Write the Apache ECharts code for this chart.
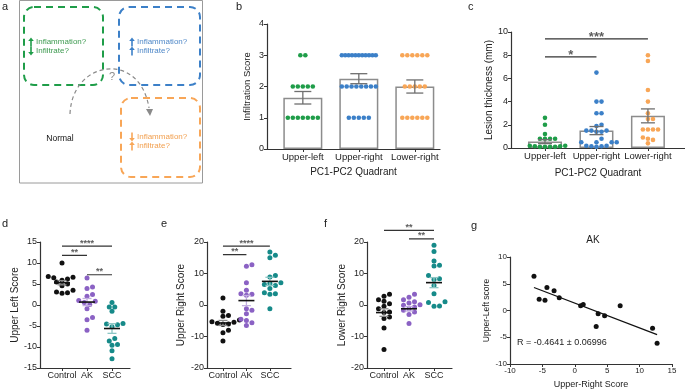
<!DOCTYPE html>
<html>
<head>
<meta charset="utf-8">
<script src="https://cdn.jsdelivr.net/npm/echarts@6/dist/echarts.min.js"></script>
<style>
  html, body { margin: 0; padding: 0; background: #fff; }
  #chart { width: 685px; height: 391px; }
</style>
</head>
<body>
<div id="chart"></div>
<script>
// ---------- data ----------
const quadrants = ["Upper-left", "Upper-right", "Lower-right"];
const groups = ["Control", "AK", "SCC"];

// b: infiltration score
const bUpperLeft = [3, 3, 2, 2, 2, 2, 2, 1, 1, 1, 1, 1, 1, 1];
const bUpperRight = [3, 3, 3, 3, 3, 3, 3, 3, 3, 3, 3, 2, 2, 2, 2, 2, 2, 2, 2, 1, 1, 1, 1, 1];
const bLowerRight = [3, 3, 3, 3, 3, 3, 2, 2, 2, 2, 2, 1, 1, 1, 1, 1, 1];
const bMean = [1.64, 2.25, 2.0];
const bSem = [0.2, 0.16, 0.21];

// c: lesion thickness (mm)
const cUpperLeft = [2.6, 2.0, 1.2, 0.8, 0.8, 0.8, 0.8, 0.2, 0.2, 0.15, 0.15, 0.1, 0.1, 0.1, 0.1];
const cUpperRight = [6.5, 4.0, 4.0, 3.0, 3.0, 2.0, 1.9, 1.5, 1.5, 1.4, 1.4, 1.5, 0.8, 0.5, 0.5, 0.5, 0.5, 0.2, 0.2, 0.15, 0.15, 0.1];
const cLowerRight = [8.0, 7.5, 5.0, 4.0, 3.0, 2.5, 2.5, 1.6, 1.6, 1.6, 1.6, 0.9, 0.8, 0.7, 0.4];
const cMean = [0.55, 1.5, 2.77];
const cSem = [0.17, 0.35, 0.6];
const cSigFrom = [1, 1];
const cSigTo = [2, 3];
const cSigY = [7.85, 9.4];
const cSigText = ["*", "***"];

// d: upper left score
const dControl = [10, 6.8, 6.5, 6.6, 6.2, 5.9, 5.5, 5.0, 4.6, 3.5, 3.1, 2.9, 2.8];
const dAK = [6.4, 4.3, 3.9, 2.5, 2.1, 1.1, 0.9, 0.6, 0.1, -0.9, -3.0, -3.5, -6.0];
const dSCC = [0.6, -0.5, -0.5, -1.5, -4.4, -4.5, -4.7, -5.2, -8.0, -8.6, -9.4, -9.6, -10.9, -12.8];
const dMean = [5.3, 0.7, -5.6];
const dSem = [0.5, 0.85, 1.15];
const dSigFrom = [1, 1, 2];
const dSigTo = [3, 2, 3];
const dSigY = [14.0, 11.8, 7.2];
const dSigText = ["****", "**", "**"];

// e: upper right score
const eControl = [2.2, -2.0, -3.3, -3.6, -4.8, -5.3, -5.5, -5.8, -6.0, -6.2, -8.0, -8.8, -11.4];
const eAK = [12.3, 12.8, 7.1, 4.7, 3.6, 3.4, 3.1, -1.2, -1.7, -2.8, -4.5, -4.9, -5.6, -6.5];
const eSCC = [16.8, 15.8, 15.0, 9.4, 8.9, 7.1, 6.8, 6.5, 6.2, 5.2, 3.9, 3.6, 3.4, -1.2];
const eMean = [-5.7, 1.4, 7.5];
const eSem = [0.8, 1.6, 1.3];
const eSigFrom = [1, 1];
const eSigTo = [3, 2];
const eSigY = [18.7, 16.0];
const eSigText = ["****", "**"];

// f: lower right score
const fControl = [3.4, 2.8, 1.7, 1.2, 0.4, -0.4, -1.2, -2.2, -2.4, -3.8, -4.3, -7.3, -14.1];
const fAK = [3.4, 2.5, 1.7, 1.0, 0.6, 0.1, -0.1, -0.6, -1.2, -1.7, -2.2, -3.0, -5.9];
const fSCC = [19, 17, 14, 12.6, 12.4, 9.4, 8.3, 8.1, 6.2, 3.6, 1.0, 0.8, -0.3, -0.4];
const fMean = [-2.4, -1.2, 7.1];
const fSem = [1.2, 0.7, 1.6];
const fSigFrom = [1, 2];
const fSigTo = [3, 3];
const fSigY = [23.7, 21.0];
const fSigText = ["**", "**"];

// g: AK upper-right vs upper-left
const gX = [-6.3, -5.5, -4.6, -4.3, -3.2, -2.4, 0.9, 1.3, 3.3, 3.6, 4.6, 7.0, 12.0, 12.7];
const gY = [6.4, 2.1, 1.9, 4.3, 3.7, 2.4, 0.9, 1.1, -3.0, -0.6, -1.0, 0.9, -3.3, -6.1];
const gFitX = [-6.3, 12.7];
const gFitY = [4.3, -4.5];

// ---------- style / layout ----------
const FONT = "'Liberation Sans', Arial, Helvetica, sans-serif";
const GREEN = "#1f9d49";
const BLUE = "#3c80c8";
const ORANGE = "#f8a657";
const PURPLE = "#8b62c4";
const TEAL = "#168a89";
const AXIS = "#333";

const panels = {
  b: { grid: { left: 267, top: 24, width: 173, height: 125 }, x: [0.36, 3.45], y: [0, 4, 1] },
  c: { grid: { left: 511, top: 32, width: 174, height: 116 }, x: [0.34, 3.72], y: [0, 10, 2] },
  d: { grid: { left: 40, top: 242, width: 90, height: 126 }, x: [0.12, 3.72], y: [-15, 15, 5] },
  e: { grid: { left: 207, top: 242, width: 84, height: 126 }, x: [0.32, 3.9], y: [-20, 20, 10] },
  f: { grid: { left: 367, top: 242, width: 85, height: 126 }, x: [0.32, 3.72], y: [-20, 20, 10] },
  g: { grid: { left: 510, top: 257, width: 162, height: 107 }, x: [-10, 15, 5], y: [-10, 10, 5] },
};
const order = ["b", "c", "d", "e", "f", "g"];
const pxX = (k) => panels[k].grid.width / (panels[k].x[1] - panels[k].x[0]);
const pxY = (k) => panels[k].grid.height / (panels[k].y[1] - panels[k].y[0]);

// dots in rows (equal scores), centred on the category
function rowLayout(vals, center, k, maxW, step) {
  const counts = {};
  vals.forEach((v) => (counts[v] = (counts[v] || 0) + 1));
  const seen = {};
  return vals.map((v) => {
    const n = counts[v];
    const idx = (seen[v] = (seen[v] || 0) + 1) - 1;
    const sp = n > 1 ? Math.min(step, maxW / (n - 1)) : 0;
    return [center + ((idx - (n - 1) / 2) * sp) / pxX(k), v];
  });
}

// simple beeswarm in pixel space
function swarm(vals, center, k, dia) {
  const sx = pxX(k), sy = pxY(k);
  const placed = [];
  const out = [];
  const idx = vals.map((v, i) => i).sort((a, b) => vals[a] - vals[b]);
  idx.forEach((i) => {
    const py = vals[i] * sy;
    let ox = 0;
    for (let s = 0; s < 80; s++) {
      const cand = s === 0 ? 0 : (s % 2 ? 1 : -1) * Math.ceil(s / 2) * dia * 0.55;
      if (placed.every((p) => (p[0] - cand) ** 2 + (p[1] - py) ** 2 >= dia * dia)) {
        ox = cand;
        break;
      }
    }
    placed.push([ox, py]);
    out.push([center + ox / sx, vals[i]]);
  });
  return out;
}

function errorSeries(gi, means, sems, color, capPx, meanPx) {
  return {
    type: "custom",
    xAxisIndex: gi,
    yAxisIndex: gi,
    z: 5,
    silent: true,
    data: means.map((m, i) => [i + 1, m, sems[i]]),
    encode: { x: 0, y: 1 },
    renderItem: (params, api) => {
      const x = api.value(0), m = api.value(1), s = api.value(2);
      const top = api.coord([x, m + s]);
      const bot = api.coord([x, m - s]);
      const mid = api.coord([x, m]);
      const c = Array.isArray(color) ? color[params.dataIndex] : color;
      const st = { stroke: c, lineWidth: 1.3 };
      const children = [
        { type: "line", shape: { x1: top[0], y1: top[1], x2: bot[0], y2: bot[1] }, style: st },
        { type: "line", shape: { x1: top[0] - capPx / 2, y1: top[1], x2: top[0] + capPx / 2, y2: top[1] }, style: st },
        { type: "line", shape: { x1: bot[0] - capPx / 2, y1: bot[1], x2: bot[0] + capPx / 2, y2: bot[1] }, style: st },
      ];
      if (meanPx) {
        children.push({
          type: "line",
          shape: { x1: mid[0] - meanPx / 2, y1: mid[1], x2: mid[0] + meanPx / 2, y2: mid[1] },
          style: { stroke: "#111", lineWidth: 1.6 },
        });
      }
      return { type: "group", children };
    },
  };
}

function sigSeries(gi, from, to, ys, texts, fontSize, dy) {
  const out = [];
  from.forEach((f, i) => {
    out.push({
      type: "line",
      xAxisIndex: gi,
      yAxisIndex: gi,
      clip: false,
      silent: true,
      symbol: "none",
      lineStyle: { color: AXIS, width: 1.2 },
      data: [[f, ys[i]], [to[i], ys[i]]],
      z: 6,
    });
    out.push({
      type: "scatter",
      xAxisIndex: gi,
      yAxisIndex: gi,
      clip: false,
      silent: true,
      symbolSize: 0,
      data: [[(f + to[i]) / 2, ys[i]]],
      label: {
        show: true,
        position: "inside",
        offset: [0, dy],
        formatter: texts[i],
        fontSize: fontSize,
        fontWeight: "bold",
        color: AXIS,
        fontFamily: FONT,
      },
      z: 6,
    });
  });
  return out;
}

function dotSeries(gi, data, color, size) {
  return {
    type: "scatter",
    xAxisIndex: gi,
    yAxisIndex: gi,
    silent: true,
    symbolSize: size,
    itemStyle: { color: color, opacity: 1 },
    data: data,
    z: 3,
  };
}

function xCatAxis(gi, names, title, fs, gap) {
  const k = order[gi];
  return {
    gridIndex: gi,
    type: "value",
    min: panels[k].x[0],
    max: panels[k].x[1],
    axisLine: { show: true, onZero: false, lineStyle: { color: AXIS, width: 1.2 } },
    axisTick: { show: true, customValues: [1, 2, 3], length: 3, lineStyle: { color: AXIS } },
    axisLabel: {
      customValues: [1, 2, 3],
      formatter: (v) => names[Math.round(v) - 1],
      fontSize: fs,
      color: "#222",
      margin: 3,
      fontFamily: FONT,
    },
    splitLine: { show: false },
    name: title,
    nameLocation: "middle",
    nameGap: gap,
    nameTextStyle: { fontSize: 10, color: "#222", fontFamily: FONT },
  };
}

function yValAxis(gi, title, fs, gap, nameFs) {
  const k = order[gi];
  return {
    gridIndex: gi,
    type: "value",
    min: panels[k].y[0],
    max: panels[k].y[1],
    interval: panels[k].y[2],
    axisLine: { show: true, onZero: false, lineStyle: { color: AXIS, width: 1.2 } },
    axisTick: { show: true, length: 3, lineStyle: { color: AXIS } },
    axisLabel: { fontSize: fs, color: "#222", margin: 3, fontFamily: FONT },
    splitLine: { show: false },
    name: title,
    nameLocation: "middle",
    nameRotate: 90,
    nameGap: gap,
    nameTextStyle: { fontSize: nameFs, color: "#222", fontFamily: FONT },
  };
}

// ---------- axes ----------
const xAxes = [
  xCatAxis(0, quadrants, "PC1-PC2 Quadrant", 9.5, 18),
  xCatAxis(1, quadrants, "PC1-PC2 Quadrant", 9.5, 20),
  xCatAxis(2, groups, "", 9, 10),
  xCatAxis(3, groups, "", 9, 10),
  xCatAxis(4, groups, "", 9, 10),
  {
    gridIndex: 5,
    type: "value",
    min: panels.g.x[0],
    max: panels.g.x[1],
    interval: panels.g.x[2],
    axisLine: { show: true, onZero: false, lineStyle: { color: AXIS, width: 1.2 } },
    axisTick: { show: true, length: 3, lineStyle: { color: AXIS } },
    axisLabel: { fontSize: 8, color: "#222", margin: 3, fontFamily: FONT },
    splitLine: { show: false },
    name: "Upper-Right Score",
    nameLocation: "middle",
    nameGap: 16,
    nameTextStyle: { fontSize: 9, color: "#222", fontFamily: FONT },
  },
];
const yAxes = [
  yValAxis(0, "Infiltration Score", 9, 15, 9.5),
  yValAxis(1, "Lesion thickness (mm)", 9, 17, 10),
  yValAxis(2, "Upper Left Score", 9, 14, 10),
  yValAxis(3, "Upper Right Score", 9, 21, 10),
  yValAxis(4, "Lower Right Score", 9, 20, 10),
  yValAxis(5, "Upper-Left score", 8, 19, 8.5),
];

// ---------- series ----------
const series = [];
const barPanel = (gi, k, lists, means, sems, colors, barW, capPx) => {
  series.push({
    type: "bar",
    xAxisIndex: gi,
    yAxisIndex: gi,
    silent: true,
    barWidth: barW,
    itemStyle: { color: "#fff", borderColor: "#8c8c8c", borderWidth: 1.5 },
    data: means.map((m, i) => [i + 1, m]),
    z: 1,
  });
  lists.forEach((vals, i) => {
    const pts = k === "b" ? rowLayout(vals, i + 1, k, 34, 5) : swarm(vals, i + 1, k, 4.6);
    series.push(dotSeries(gi, pts, colors[i], 4.6));
  });
  series.push(errorSeries(gi, means, sems, "#6f6f6f", capPx, 0));
};
barPanel(0, "b", [bUpperLeft, bUpperRight, bLowerRight], bMean, bSem, [GREEN, BLUE, ORANGE], 39, 17);
barPanel(1, "c", [cUpperLeft, cUpperRight, cLowerRight], cMean, cSem, [GREEN, BLUE, ORANGE], 34, 14);
series.push(...sigSeries(1, cSigFrom, cSigTo, cSigY, cSigText, 13, -2));

const dotPanel = (gi, k, lists, means, sems, sf, st, sy, stext) => {
  const colors = ["#111", PURPLE, TEAL];
  const light = ["#8a8a8a", "#c2aee0", "#8cc6c5"];
  lists.forEach((vals, i) => series.push(dotSeries(gi, swarm(vals, i + 1, k, 5), colors[i], 5)));
  series.push(errorSeries(gi, means, sems, light, 9, 16));
  series.push(...sigSeries(gi, sf, st, sy, stext, 9, -3));
};
dotPanel(2, "d", [dControl, dAK, dSCC], dMean, dSem, dSigFrom, dSigTo, dSigY, dSigText);
dotPanel(3, "e", [eControl, eAK, eSCC], eMean, eSem, eSigFrom, eSigTo, eSigY, eSigText);
dotPanel(4, "f", [fControl, fAK, fSCC], fMean, fSem, fSigFrom, fSigTo, fSigY, fSigText);

series.push(dotSeries(5, gX.map((x, i) => [x, gY[i]]), "#111", 5));
series.push({
  type: "line",
  xAxisIndex: 5,
  yAxisIndex: 5,
  silent: true,
  symbol: "none",
  lineStyle: { color: "#111", width: 1.3 },
  data: gFitX.map((x, i) => [x, gFitY[i]]),
  z: 2,
});

// ---------- panel a diagram + labels ----------
const txt = (x, y, text, size, color, extra) => ({
  type: "text",
  x,
  y,
  silent: true,
  style: Object.assign({ text, fill: color, font: `${size}px ${FONT}`, verticalAlign: "middle", align: "left" }, extra || {}),
});
const arrow = (x, yc, dir, color) => {
  const tip = yc - dir * 4.5, tail = yc + dir * 4.5;
  return [
    { type: "line", silent: true, shape: { x1: x, y1: tail, x2: x, y2: tip + dir * 2 }, style: { stroke: color, lineWidth: 1.6 } },
    { type: "polygon", silent: true, shape: { points: [[x - 2.8, tip + dir * 3.5], [x + 2.8, tip + dir * 3.5], [x, tip]] }, style: { fill: color } },
  ];
};
const dashedBox = (x, y, w, h, color) => ({
  type: "rect",
  silent: true,
  shape: { x, y, width: w, height: h, r: 10 },
  style: { fill: "none", stroke: color, lineWidth: 2, lineDash: [7, 5] },
});

const graphic = [
  { type: "rect", silent: true, shape: { x: 19.5, y: 0.5, width: 183, height: 182.5 }, style: { fill: "none", stroke: "#9a9a9a", lineWidth: 1 } },
  dashedBox(24, 7, 79, 78, GREEN),
  dashedBox(119, 7, 81, 78, BLUE),
  dashedBox(121, 98, 79, 79, ORANGE),
  {
    type: "bezierCurve",
    silent: true,
    shape: { x1: 70, y1: 114, x2: 149, y2: 108, cpx1: 72, cpy1: 60, cpx2: 140, cpy2: 50 },
    style: { fill: "none", stroke: "#8a8a8a", lineWidth: 1.2, lineDash: [4, 3] },
  },
  { type: "polygon", silent: true, shape: { points: [[146, 109], [153, 109], [150, 116]] }, style: { fill: "#8a8a8a" } },
  txt(112, 77, "?", 11, "#8a8a8a", { align: "center" }),
  ...arrow(31, 42, 1, GREEN),
  ...arrow(31, 51, -1, GREEN),
  txt(36, 42, "Inflammation?", 8, "#3d9a50"),
  txt(36, 51, "Infiltrate?", 8, "#3d9a50"),
  ...arrow(132, 42, 1, BLUE),
  ...arrow(132, 51, 1, BLUE),
  txt(137, 42, "Inflammation?", 8, "#4f88c8"),
  txt(137, 51, "Infiltrate?", 8, "#4f88c8"),
  ...arrow(132, 137, -1, ORANGE),
  ...arrow(132, 146, 1, ORANGE),
  txt(137, 137, "Inflammation?", 8, "#f2a050"),
  txt(137, 146, "Infiltrate?", 8, "#f2a050"),
  txt(60, 139, "Normal", 8.5, "#111", { align: "center" }),
  txt(593, 240, "AK", 10, "#222", { align: "center" }),
  txt(517, 343, "R = -0.4641 \u00b1 0.06996", 9, "#222"),
  txt(2, 7, "a", 11, "#222"),
  txt(236, 7, "b", 11, "#222"),
  txt(468, 7, "c", 11, "#222"),
  txt(2, 224, "d", 11, "#222"),
  txt(161, 224, "e", 11, "#222"),
  txt(324, 224, "f", 11, "#222"),
  txt(471, 226, "g", 11, "#222"),
];

const chart = echarts.init(document.getElementById("chart"), null, { renderer: "canvas" });
chart.setOption({
  animation: false,
  backgroundColor: "#fff",
  textStyle: { fontFamily: FONT },
  grid: order.map((k) => Object.assign({ containLabel: false, outerBoundsMode: "none" }, panels[k].grid)),
  xAxis: xAxes,
  yAxis: yAxes,
  series: series,
  graphic: graphic,
});
</script>
</body>
</html>
